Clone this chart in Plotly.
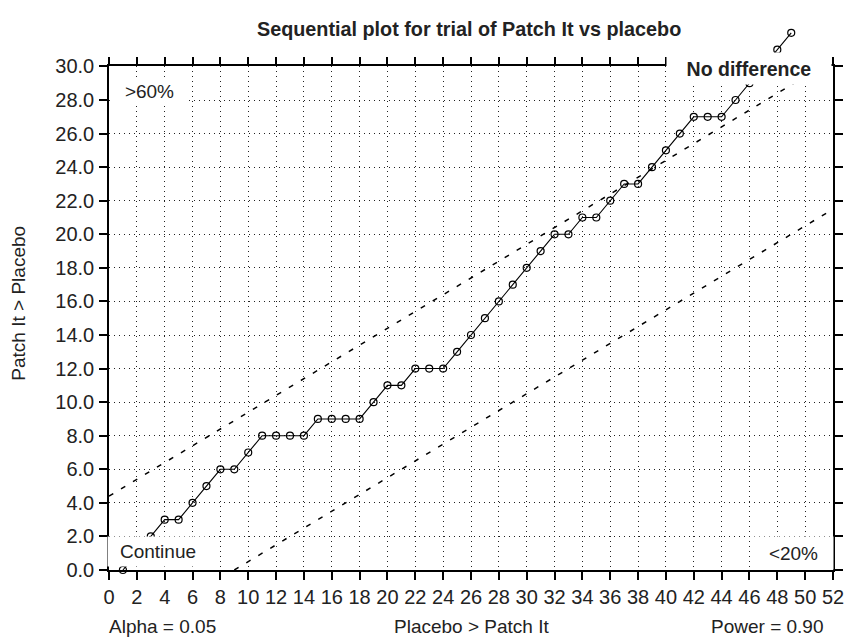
import plotly.graph_objects as go

# ---------------- data ----------------
trial_x = list(range(1, 50))
trial_y = [0, 1, 2, 3, 3, 4, 5, 6, 6, 7,
           8, 8, 8, 8, 9, 9, 9, 9, 10, 11,
           11, 12, 12, 12, 13, 14, 15, 16, 17, 18,
           19, 20, 20, 21, 21, 22, 23, 23, 24, 25,
           26, 27, 27, 27, 28, 29, 30, 31, 32]

upper_x = [0, 52]
upper_y = [4.4, 30.4]
lower_x = [9, 52]
lower_y = [0, 21.5]

x_ticks = list(range(0, 53, 2))
x_tick_labels = [str(v) for v in x_ticks]
y_ticks = list(range(0, 31, 2))
y_tick_labels = ["%.1f" % v for v in y_ticks]

# ---------------- layout geometry ----------------
W, H = 854, 637
ML, MR, MT, MB = 109, 11, 15, 67
PW = W - ML - MR
PH = H - MT - MB
PLOT_TOP = 60  # pixel y of y=30
y_dom_top = (H - MB - PLOT_TOP) / PH
y2_range_top = 30 * PH / (H - MB - PLOT_TOP)

FONT = "Liberation Sans, Arial, Helvetica, sans-serif"


def px(x):
    return (x - ML) / PW


def py(y):
    return (H - MB - y) / PH


fig = go.Figure()

fig.add_trace(go.Scatter(x=upper_x, y=upper_y, mode="lines",
                         line=dict(color="black", width=1.5, dash="5px,9px"),
                         hoverinfo="skip", xaxis="x", yaxis="y"))
fig.add_trace(go.Scatter(x=lower_x, y=lower_y, mode="lines",
                         line=dict(color="black", width=1.5, dash="5px,9px"),
                         hoverinfo="skip", xaxis="x", yaxis="y"))
fig.add_trace(go.Scatter(x=trial_x, y=trial_y, mode="lines+markers",
                         line=dict(color="black", width=1.1),
                         marker=dict(symbol="circle-open", size=7, color="black",
                                     line=dict(width=1.2, color="black")),
                         cliponaxis=False, hoverinfo="skip",
                         xaxis="x2", yaxis="y2"))

axis_common = dict(
    ticks="outside", ticklen=8, tickwidth=1.5, tickcolor="black",
    showline=True, linewidth=1.5, linecolor="black", mirror="ticks",
    showgrid=True, gridcolor="#222", gridwidth=1, griddash="1px,4px",
    zeroline=False, tickfont=dict(size=20, family=FONT, color="#222"),
)

fig.update_layout(
    width=W, height=H,
    margin=dict(l=ML, r=MR, t=MT, b=MB, pad=0),
    paper_bgcolor="white", plot_bgcolor="rgba(0,0,0,0)",
    showlegend=False,
    font=dict(family=FONT, size=20, color="#222"),
    xaxis=dict(domain=[0, 1], range=[0, 52], tickmode="array",
               tickvals=x_ticks, ticktext=x_tick_labels, anchor="y",
               **axis_common),
    yaxis=dict(domain=[0, y_dom_top], range=[0, 30], tickmode="array",
               tickvals=y_ticks, ticktext=y_tick_labels, anchor="x",
               ticklabelstandoff=1, **axis_common),
    xaxis2=dict(domain=[0, 1], range=[0, 52], anchor="y2", visible=False,
                showgrid=False, zeroline=False),
    yaxis2=dict(domain=[0, 1], range=[0, y2_range_top], anchor="x2",
                visible=False, showgrid=False, zeroline=False),
)

ann = []
# title
ann.append(dict(text="<b>Sequential plot for trial of Patch It vs placebo</b>",
                x=px(473.5), y=py(22), xanchor="center", yanchor="middle",
                font=dict(size=19.8)))
# boxed region labels
ann.append(dict(text="<b>No difference</b>", x=px(758), y=py(62.5),
                xanchor="center", yanchor="middle", width=164, height=31,
                bgcolor="white", borderpad=0, font=dict(size=19.5)))
ann.append(dict(text=">60%", x=px(150.5), y=py(85), xanchor="center",
                yanchor="middle", width=75, height=26, bgcolor="white",
                borderpad=0, font=dict(size=19)))
ann.append(dict(text="Continue", x=px(159), y=py(551.5), xanchor="center",
                yanchor="middle", width=100, height=29, bgcolor="white",
                borderpad=0, font=dict(size=19)))
ann.append(dict(text="<20%", x=px(802.5), y=py(553), xanchor="center",
                yanchor="middle", width=79, height=32, bgcolor="white",
                borderpad=0, font=dict(size=19)))
# bottom texts
ann.append(dict(text="Alpha = 0.05", x=px(107), y=py(627), xanchor="left",
                yanchor="middle", font=dict(size=19)))
ann.append(dict(text="Placebo > Patch It", x=px(476), y=py(627),
                xanchor="center", yanchor="middle", font=dict(size=19)))
ann.append(dict(text="Power = 0.90", x=px(836), y=py(627), xanchor="right",
                yanchor="middle", font=dict(size=19)))
# y-axis title
ann.append(dict(text="Patch It > Placebo", x=px(17), y=py(300),
                xanchor="center", yanchor="middle", textangle=-90,
                font=dict(size=19)))

for a in ann:
    a.update(xref="paper", yref="paper", showarrow=False)
fig.update_layout(annotations=ann)

fig.write_html("out.html",
               config={"displayModeBar": False},
               post_script="document.body.style.margin='0px';"
                           "document.body.style.padding='0px';")
